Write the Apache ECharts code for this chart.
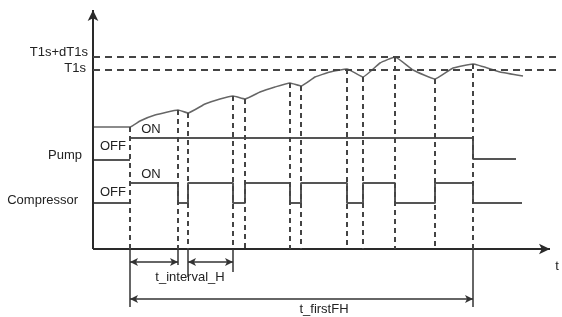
<!DOCTYPE html>
<html><head><meta charset="utf-8">
<script src="https://cdn.jsdelivr.net/npm/echarts@6/dist/echarts.min.js"></script>
<style>html,body{margin:0;padding:0;background:#fff}#c{width:562px;height:317px}</style>
</head><body><div id="c"></div>
<script>
// time (x) and level (y) values
const curveT    = [0,37,47,62,85,95,112,127,140,152,167,182,197,208,222,237,254,270,287,302,320,342,360,380,407,430];
const curveTemp = [122,122,128,134,139,136,145,150,153,150,157,162,166,163,172,177,180,172,186,192,179,170,181,185,177,173];
const eventTimes = [37,85,95,140,152,197,208,254,270,302,342,380];
const thresholdValues = [192,179];
const thresholdLabels = ['T1s+dT1s','T1s'];
const pumpOff = [[0,89],[37,89]];
const pumpOn  = [[37,111],[380,111],[380,90],[423,90]];
const compOff = [[0,46],[37,46]];
const compOn  = [[37,66],[85,66],[85,46],[95,46],[95,66],[140,66],[140,46],[152,46],[152,66],[197,66],[197,46],[208,46],[208,66],[254,66],[254,46],[270,46],[270,66],[302,66],[302,46],[342,46],[342,66],[380,66],[380,46],[429,46]];
const intervalSpans = [[37,85],[95,140]];
const intervalLevel = -13;
const intervalTicks = [[85,-16],[95,-28],[140,-23]];
const firstFHSpan = [37,380];
const firstFHLevel = -50;
const firstFHTicks = [[37,-58],[380,-58]];
const xAxisEnd = 457, yAxisEnd = 239, thresholdEnd = 464;

const eventTemps = eventTimes.map(t => curveTemp[curveT.indexOf(t)]);
const curve = curveT.map((t,i)=>[t,curveTemp[i]]);

const axisStyle = {color:'#2a2a2a', width:2, type:'solid'};
const dashV = {color:'#444', width:2, type:[5,4]};
const dashH = {color:'#444', width:2, type:[7,5]};
const thin = {color:'#333', width:1.5, type:'solid'};

function seg(a,b,style,s1,s2,size){
  return [{coord:a, lineStyle:style, symbol:s1||'none', symbolSize:size||[7,9]},{coord:b, symbol:s2||'none', symbolSize:size||[7,9]}];
}
const marks = [];
marks.push(seg([0,0],[0,yAxisEnd],axisStyle,'none','arrow',[8,11]));
marks.push(seg([0,0],[xAxisEnd,0],axisStyle,'none','arrow',[8,11]));
thresholdValues.forEach(v=>marks.push(seg([0,v],[thresholdEnd,v],dashH)));
eventTimes.forEach((t,i)=>marks.push(seg([t,eventTemps[i]],[t,0],dashV)));
firstFHTicks.forEach(p=>marks.push(seg([p[0],0],p,thin)));
intervalTicks.forEach(p=>marks.push(seg([p[0],0],p,thin)));
intervalSpans.forEach(s=>marks.push(seg([s[0],intervalLevel],[s[1],intervalLevel],thin,'arrow','arrow',[6,8])));
marks.push(seg([firstFHSpan[0],firstFHLevel],[firstFHSpan[1],firstFHLevel],thin,'arrow','arrow',[6,8]));

const sig = {color:'#555', width:2};
function lineSeries(data, style, extra){
  return Object.assign({type:'line', data, symbol:'none', lineStyle:style, silent:true, animation:false, clip:false}, extra||{});
}
const chart = echarts.init(document.getElementById('c'), null, {renderer:'canvas'});
const font = '13px "Liberation Sans", Arial, sans-serif';
function txt(t,x,y,align){return {type:'text', x, y, style:{text:t, fill:'#222', font, align:align||'center', verticalAlign:'middle'}, silent:true};}
chart.setOption({
  animation:false,
  grid:{left:93, right:0, top:0, bottom:0},
  xAxis:{type:'value', min:0, max:469, show:false},
  yAxis:{type:'value', min:-68, max:249, show:false},
  series:[
    lineSeries(curve, {color:'#666', width:1.5}, {smooth:0.12, z:3}),
    lineSeries(pumpOff, sig),
    lineSeries(pumpOn, sig),
    lineSeries(compOff, sig),
    lineSeries(compOn, sig, {markLine:{silent:true, animation:false, label:{show:false}, emphasis:{disabled:true}, data:marks}})
  ],
  graphic:[
    txt(thresholdLabels[0],88,52,'right'),
    txt(thresholdLabels[1],86,68,'right'),
    txt('Pump',82,155,'right'),
    txt('Compressor',78,200,'right'),
    txt('ON',151,129),
    txt('OFF',113,146),
    txt('ON',151,174),
    txt('OFF',113,192),
    txt('t',557,266),
    txt('t_interval_H',190,277),
    txt('t_firstFH',324,309)
  ]
});
</script></body></html>
